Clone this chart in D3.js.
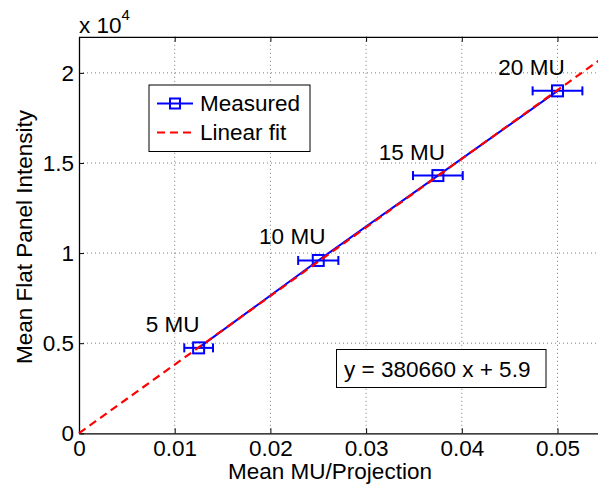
<!DOCTYPE html>
<html><head><meta charset="utf-8">
<script src="https://cdn.jsdelivr.net/npm/d3@7"></script>
<style>
html,body{margin:0;padding:0;background:#fff;}
text{font-family:"Liberation Sans",Arial,Helvetica,sans-serif;fill:#000;}
</style></head>
<body><svg id="c" width="598" height="488"></svg>
<script>
// ---- data ----
const doseLabels = ["5 MU","10 MU","15 MU","20 MU"];
const muPerProj = [0.0125, 0.025, 0.0375, 0.05];
const intensity = [4740, 9590, 14300, 19000];
const xErr = [0.0015, 0.0021, 0.0026, 0.0026];
const fitSlope = 380660;
const fitIntercept = 5.9;
const fitRange = [0, 0.056];
const xTicks = [0, 0.01, 0.02, 0.03, 0.04, 0.05];
const xTickLabels = ["0","0.01","0.02","0.03","0.04","0.05"];
const yTicks = [0, 5000, 10000, 15000, 20000];
const yTickLabels = ["0","0.5","1","1.5","2"];
const legendLabels = ["Measured","Linear fit"];

const svg = d3.select("#c");
const FS = 22.5;
const L = 79, B = 433.3, T = 36.8;
const x = d3.scaleLinear().domain([0, 0.055]).range([L, L + 0.055 * 9570]);
const y = d3.scaleLinear().domain([0, 22000]).range([B, T]);
const blue = "#0000ff", red = "#ff0000";

// grid
const grid = svg.append("g").attr("stroke", "#444").attr("stroke-width", 0.7).attr("stroke-dasharray", "1,3");
xTicks.slice(1).forEach(v => grid.append("line").attr("x1", x(v)).attr("x2", x(v)).attr("y1", T).attr("y2", B));
yTicks.slice(1).forEach(v => grid.append("line").attr("x1", L).attr("x2", 598).attr("y1", y(v)).attr("y2", y(v)));

// axes
const xa = svg.append("g").attr("transform", `translate(0,${B})`)
  .call(d3.axisBottom(x).tickValues(xTicks).tickSize(-5).tickSizeOuter(0).tickPadding(7)
    .tickFormat((d, i) => xTickLabels[i]));
const xt = svg.append("g").attr("transform", `translate(0,${T})`)
  .call(d3.axisTop(x).tickValues(xTicks).tickSize(-5).tickSizeOuter(0).tickFormat(""));
const ya = svg.append("g").attr("transform", `translate(${L},0)`)
  .call(d3.axisLeft(y).tickValues(yTicks).tickSize(-5).tickSizeOuter(0).tickPadding(5)
    .tickFormat((d, i) => yTickLabels[i]));
[xa, xt, ya].forEach(g => {
  g.selectAll("path").attr("stroke", "#000").attr("stroke-width", 1.3);
  g.selectAll("line").attr("stroke", "#000");
  g.selectAll("text").attr("font-size", FS).attr("font-family", "Liberation Sans,Arial,sans-serif").attr("fill", "#000");
});
xa.selectAll("text").attr("dy", "0.71em");

// exponent
const ex = svg.append("text").attr("x", L).attr("y", 33).attr("font-size", FS);
ex.append("tspan").text("x 10");
ex.append("tspan").attr("font-size", 15).attr("dy", -13).text("4");

// axis labels
svg.append("text").attr("x", 330).attr("y", 479).attr("text-anchor", "middle").attr("font-size", FS).text("Mean MU/Projection");
svg.append("text").attr("transform", `translate(32,237) rotate(-90)`).attr("text-anchor", "middle").attr("font-size", FS).text("Mean Flat Panel Intensity");

// measured line
const pts = muPerProj.map((v, i) => [v, intensity[i]]);
svg.append("path").datum(pts).attr("fill", "none").attr("stroke", blue).attr("stroke-width", 2)
  .attr("d", d3.line().x(d => x(d[0])).y(d => y(d[1])));

// error bars
const eb = svg.append("g").attr("stroke", blue).attr("stroke-width", 2).attr("fill", "none");
pts.forEach((p, i) => {
  const cy = y(p[1]), x0 = x(p[0] - xErr[i]), x1 = x(p[0] + xErr[i]);
  eb.append("line").attr("x1", x0).attr("x2", x1).attr("y1", cy).attr("y2", cy);
  eb.append("line").attr("x1", x0).attr("x2", x0).attr("y1", cy - 4.5).attr("y2", cy + 4.5);
  eb.append("line").attr("x1", x1).attr("x2", x1).attr("y1", cy - 4.5).attr("y2", cy + 4.5);
  eb.append("rect").attr("x", x(p[0]) - 5.5).attr("y", cy - 5.5).attr("width", 11).attr("height", 11);
});

// fit line
const fitPts = fitRange.map(v => [v, fitSlope * v + fitIntercept]);
svg.append("path").datum(fitPts).attr("fill", "none").attr("stroke", red).attr("stroke-width", 2.2)
  .attr("stroke-dasharray", "8,5")
  .attr("d", d3.line().x(d => x(d[0])).y(d => y(d[1])));

// point labels
pts.forEach((p, i) => {
  svg.append("text").attr("x", x(p[0]) - 26).attr("y", y(p[1]) - 16).attr("text-anchor", "middle")
    .attr("font-size", FS).text(doseLabels[i]);
});

// legend
const lg = svg.append("g");
lg.append("rect").attr("x", 149).attr("y", 85).attr("width", 161).attr("height", 66.5)
  .attr("fill", "#fff").attr("stroke", "#000").attr("stroke-width", 1);
lg.append("line").attr("x1", 157).attr("x2", 193).attr("y1", 103.5).attr("y2", 103.5).attr("stroke", blue).attr("stroke-width", 2);
lg.append("rect").attr("x", 170).attr("y", 98.5).attr("width", 10).attr("height", 10).attr("fill", "none").attr("stroke", blue).attr("stroke-width", 2);
lg.append("line").attr("x1", 157).attr("x2", 193).attr("y1", 132.5).attr("y2", 132.5).attr("stroke", red).attr("stroke-width", 2.2).attr("stroke-dasharray", "8,5");
lg.append("text").attr("x", 200).attr("y", 111).attr("font-size", FS).text(legendLabels[0]);
lg.append("text").attr("x", 200).attr("y", 140).attr("font-size", FS).text(legendLabels[1]);

// equation box
const eqG = svg.append("g");
eqG.append("rect").attr("x", 336.5).attr("y", 349.5).attr("width", 209.5).attr("height", 38)
  .attr("fill", "#fff").attr("stroke", "#000").attr("stroke-width", 1);
eqG.append("text").attr("x", 344).attr("y", 377).attr("font-size", FS)
  .text(`y = ${fitSlope} x + ${fitIntercept}`);
</script></body></html>
